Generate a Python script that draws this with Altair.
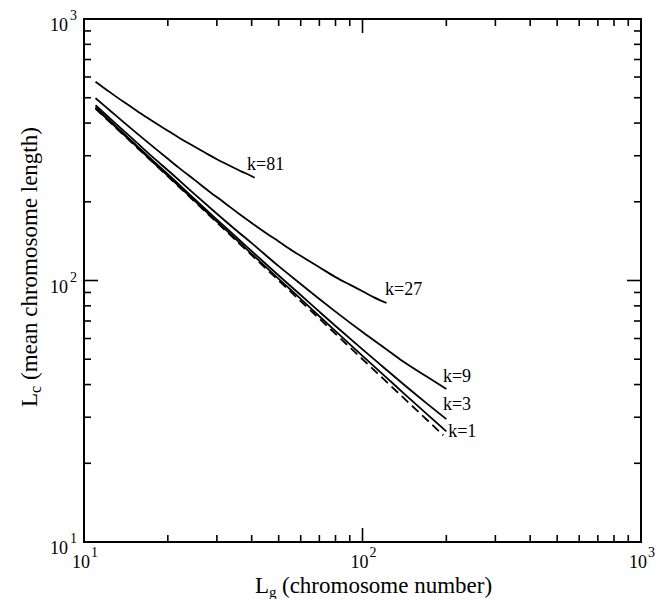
import altair as alt
import pandas as pd

# ---- data ----
L81 = [11, 12, 13, 14, 15, 16, 18, 20, 22, 24, 26, 28, 30, 33, 36, 38, 41]
Lc81 = [575, 538, 506, 479, 456, 435, 401, 374, 351, 332.5, 317, 303, 291, 276.4, 264, 257, 247]
L27 = [11, 12, 13, 14, 16, 18, 20, 22, 25, 28, 32, 36, 40, 45, 50, 56, 63, 70, 80, 90, 100, 110, 122]
Lc27 = [498, 460, 428, 400, 355, 320, 292, 269, 242, 220, 198, 180, 166, 152, 141, 130, 120.4,
        112.4, 103, 96.4, 91, 86.2, 82]
Lk = [11, 13, 15, 18, 20, 25, 30, 35, 40, 50, 60, 70, 80, 100, 120, 140, 170, 200]
Lc9 = [468, 398, 347, 291, 264, 213.5, 180, 156.4, 139, 113.5, 97, 85, 76, 63.5, 55.2, 49, 42.9, 38.5]
Lc3 = [459, 389, 338, 282, 255, 204.5, 171, 147.4, 129.5, 104.5, 88, 76, 67, 54.5, 46.2, 40.2, 33.9, 29.5]
Lc1 = [456, 386, 335, 279, 251.5, 201.5, 168, 144.4, 126.5, 101.5, 85, 73, 64, 51.5, 43.2, 37.2, 30.9, 26.5]
Ldash = [11, 20, 50, 100, 195]
Lcdash = [454, 250, 100, 50, 25.6]

labels = ["k=81", "k=27", "k=9", "k=3", "k=1"]
label_L = [38.5, 120.5, 194.5, 194.5, 203]
label_Lc = [276, 92, 42.8, 33.4, 26.4]

major_ticks = [100]
minor_ticks = [20, 30, 40, 50, 60, 70, 80, 90, 200, 300, 400, 500, 600, 700, 800, 900]
tick_vals = [10, 100, 1000]
tick_base = ["10", "10", "10"]
tick_exp = ["1", "2", "3"]

W, H = 557, 523
FONT = "Liberation Serif"

rows = []
for name, xs_, ys_ in [("k=81", L81, Lc81), ("k=27", L27, Lc27),
                       ("k=9", Lk, Lc9), ("k=3", Lk, Lc3), ("k=1", Lk, Lc1)]:
    for i, (a, b) in enumerate(zip(xs_, ys_)):
        rows.append({"series": name, "L": a, "Lc": b, "o": i})
solid = pd.DataFrame(rows)
dashed = pd.DataFrame({"series": "ref", "L": Ldash, "Lc": Lcdash, "o": range(len(Ldash))})
lab = pd.DataFrame({"t": labels, "L": label_L, "Lc": label_Lc})
minor_df = pd.DataFrame({"v": minor_ticks})
major_df = pd.DataFrame({"v": major_ticks})
tick_df = pd.DataFrame({"v": tick_vals, "b": tick_base, "e": tick_exp})

xscale = alt.Scale(type="log", domain=[10, 1000], nice=False)
yscale = alt.Scale(type="log", domain=[10, 1000], nice=False)

X = lambda f: alt.X(f, scale=xscale, axis=None)
Y = lambda f: alt.Y(f, scale=yscale, axis=None)

lines = alt.Chart(solid).mark_line(color="black", strokeWidth=1.8, interpolate="monotone").encode(
    x=X("L:Q"), y=Y("Lc:Q"), detail="series:N", order="o:Q")
dline = alt.Chart(dashed).mark_line(color="black", strokeWidth=1.8, strokeDash=[9, 5]).encode(
    x=X("L:Q"), y=Y("Lc:Q"), order="o:Q")
ltext = alt.Chart(lab).mark_text(font=FONT, fontSize=18, align="left", baseline="middle").encode(
    x=X("L:Q"), y=Y("Lc:Q"), text="t:N")

def xticks(df, length):
    b = alt.Chart(df).mark_rule(color="black", strokeWidth=1.6).encode(
        x=X("v:Q"), y=alt.value(H), y2=alt.value(H - length))
    t = alt.Chart(df).mark_rule(color="black", strokeWidth=1.6).encode(
        x=X("v:Q"), y=alt.value(0), y2=alt.value(length))
    return b + t

def yticks(df, length):
    l = alt.Chart(df).mark_rule(color="black", strokeWidth=1.6).encode(
        y=Y("v:Q"), x=alt.value(0), x2=alt.value(length))
    r = alt.Chart(df).mark_rule(color="black", strokeWidth=1.6).encode(
        y=Y("v:Q"), x=alt.value(W), x2=alt.value(W - length))
    return l + r

xlab_b = alt.Chart(tick_df).mark_text(font=FONT, fontSize=18, align="right", baseline="alphabetic", dx=6).encode(
    x=X("v:Q"), y=alt.value(549), text="b:N")
xlab_e = alt.Chart(tick_df).mark_text(font=FONT, fontSize=14, align="left", baseline="alphabetic", dx=7).encode(
    x=X("v:Q"), y=alt.value(538), text="e:N")
ylab_b = alt.Chart(tick_df).mark_text(font=FONT, fontSize=18, align="right", baseline="alphabetic", dy=12).encode(
    y=Y("v:Q"), x=alt.value(-16), text="b:N")
ylab_e = alt.Chart(tick_df).mark_text(font=FONT, fontSize=14, align="left", baseline="alphabetic", dy=1).encode(
    y=Y("v:Q"), x=alt.value(-14), text="e:N")

def txt(s, x, y, size=23, angle=0):
    kw = dict(font=FONT, fontSize=size, align="left", baseline="alphabetic", text=s)
    if angle:
        kw["angle"] = angle
    return alt.Chart(tick_df.head(1)).mark_text(**kw).encode(x=alt.value(x), y=alt.value(y))

xtitle = txt("L", 171, 574) + txt("g", 185, 578, size=15) + txt("(chromosome number)", 198, 574)
ytitle = (txt("L", -47, 388, angle=270) + txt("c", -43, 374, size=16, angle=270)
          + txt("(mean chromosome length)", -47, 361, angle=270))

chart = alt.layer(
    lines, dline, ltext,
    xticks(minor_df, 7), xticks(major_df, 14),
    yticks(minor_df, 7), yticks(major_df, 14),
    xlab_b, xlab_e, ylab_b, ylab_e, xtitle, ytitle,
).properties(
    width=W, height=H,
    autosize=alt.AutoSizeParams(type="none"),
    padding={"left": 76, "top": 11, "right": 18, "bottom": 57},
).configure_view(stroke="black", strokeWidth=2).configure_text(font=FONT)

chart.save("out.html", embed_options={"renderer": "svg", "actions": False})
